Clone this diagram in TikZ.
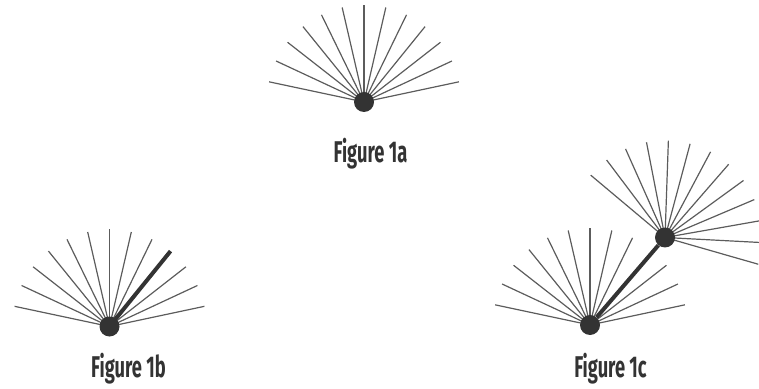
\documentclass[tikz,border=0pt]{standalone}
\usepackage{fontspec}
\newfontfamily\capfont{Fira Sans}[FakeStretch=0.61]
\usepackage{tikz}
\usetikzlibrary{calc}

\definecolor{raygray}{HTML}{5C5C5C}
\definecolor{hubgray}{HTML}{333333}

\begin{document}
\begin{tikzpicture}[x=1pt,y=1pt,
                    ray/.style={draw=raygray,line width=1.2pt},
                    stem/.style={draw=hubgray,line width=4pt},
                    hub/.style={circle,fill=hubgray,inner sep=0pt,minimum size=20pt},
                    caption/.style={anchor=base,text=hubgray,font=\capfont\bfseries\fontsize{30}{32}\selectfont}]
                    \clip (0,0) rectangle (759,388);
                    % centres of the fans
                    \coordinate (a) at (364,286);
                    \coordinate (b) at (109.5,61.5);
                    \coordinate (c) at (590,63);
                    \coordinate (d) at (665,150.5);
                    \coordinate (tip) at ($(b)+(51:97)$);

                    % figure 1a
                    \foreach \ang in {12,25,...,168}
                        \draw[ray] (a) -- ++(\ang:97);
                    \node[hub] (hubA) at (a) {};
                    \node[caption] (capA) at (370.5,225) {Figure 1a};

                    % figure 1b
                    \foreach \ang in {12,25,38,64,77,90,103,116,129,142,155,168}
                        \draw[ray] (b) -- ++(\ang:97);
                    \draw[stem] (b) -- (tip);
                    \node[hub] (hubB) at (b) {};
                    \node[caption] (capB) at (128.5,10.5) {Figure 1b};

                    % figure 1c
                    \foreach \ang in {12,25,38,64,77,90,103,116,129,142,155,168}
                        \draw[ray] (c) -- ++(\ang:97);
                    \foreach \ang in {-16,-3,...,140}
                        \draw[ray] (d) -- ++(\ang:97);
                    \node[hub] (hubC) at (c) {};
                    \node[hub] (hubD) at (d) {};
                    \draw[stem] (hubC) -- (hubD);
                    \node[caption] (capC) at (610.5,10.5) {Figure 1c};
\end{tikzpicture}
\end{document}
